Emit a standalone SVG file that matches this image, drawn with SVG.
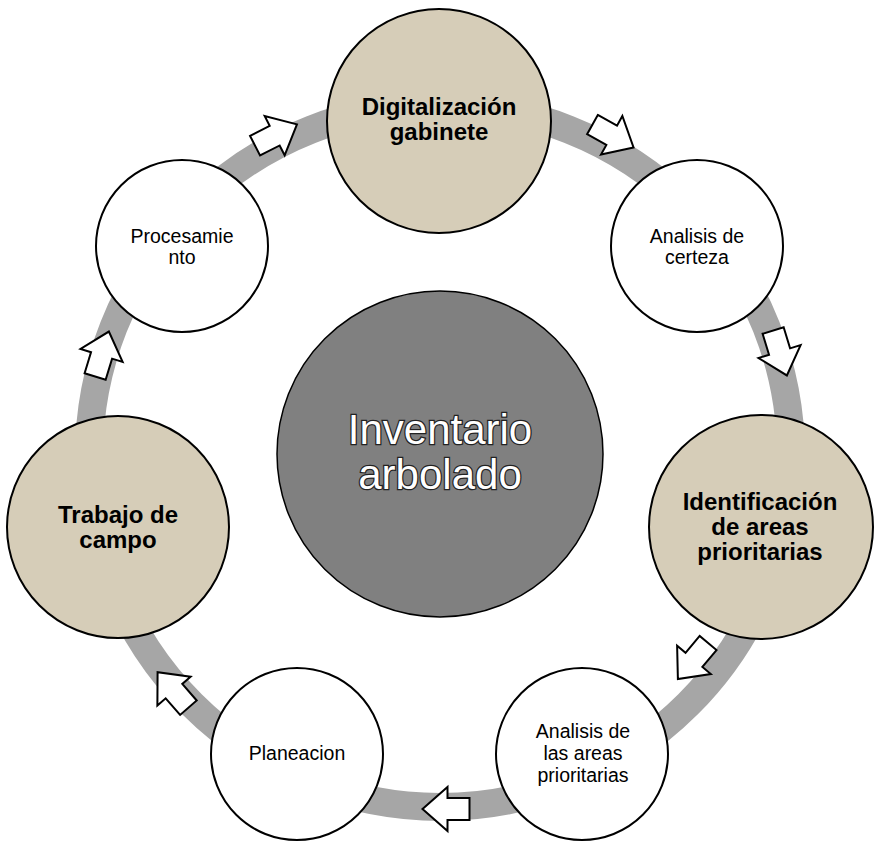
<svg xmlns="http://www.w3.org/2000/svg" width="879" height="842" viewBox="0 0 879 842">
<style>
.ring{fill:none;stroke:#a6a6a6;stroke-width:28}
.arr{fill:#fff;stroke:#000;stroke-width:2;stroke-linejoin:miter}
.big{fill:#d6cdb8;stroke:#000;stroke-width:2}
.small{fill:#fff;stroke:#000;stroke-width:2}
.center{fill:#808080;stroke:#000;stroke-width:1.5}
.tb{font-family:"Liberation Sans",Arial,sans-serif;font-weight:bold;font-size:24px;fill:#000;text-anchor:middle}
.tr{font-family:"Liberation Sans",Arial,sans-serif;font-size:19.5px;fill:#000;text-anchor:middle}
.tc{font-family:"Liberation Sans",Arial,sans-serif;font-size:42px;fill:#fff;stroke:#222;stroke-width:2.5;paint-order:stroke;text-anchor:middle}
</style>
<defs>
<polygon id="ba" points="-23.5,-11 -1.5,-11 -1.5,-22 23.5,0 -1.5,22 -1.5,11 -23.5,11"/>
</defs>
<rect x="0" y="0" width="879" height="842" fill="#fff"/>
<g id="connectors">
<circle class="ring" cx="440" cy="456" r="351"/>
<use href="#ba" class="arr" transform="translate(276,135) rotate(-27)"/>
<use href="#ba" class="arr" transform="translate(613,136) rotate(29)"/>
<use href="#ba" class="arr" transform="translate(780,353) rotate(73)"/>
<use href="#ba" class="arr" transform="translate(693,661) rotate(130)"/>
<use href="#ba" class="arr" transform="translate(446,809) rotate(180)"/>
<use href="#ba" class="arr" transform="translate(173,690) rotate(229)"/>
<use href="#ba" class="arr" transform="translate(102,354) rotate(-73)"/>
</g>
<g id="node-center">
<circle class="center" cx="440" cy="454" r="163"/>
<text class="tc" x="440" y="444">Inventario</text>
<text class="tc" x="440" y="489">arbolado</text>
</g>
<g id="node-digitalizacion">
<circle class="big" cx="439" cy="121" r="112"/>
<text class="tb" x="439" y="115">Digitalización</text>
<text class="tb" x="439" y="140">gabinete</text>
</g>
<g id="node-certeza">
<circle class="small" cx="697" cy="246" r="86"/>
<text class="tr" x="697" y="243">Analisis de</text>
<text class="tr" x="697" y="264">certeza</text>
</g>
<g id="node-identificacion">
<circle class="big" cx="761" cy="527" r="112"/>
<text class="tb" x="760" y="510">Identificación</text>
<text class="tb" x="760" y="535">de areas</text>
<text class="tb" x="760" y="560">prioritarias</text>
</g>
<g id="node-analisis-areas">
<circle class="small" cx="582" cy="754" r="86"/>
<text class="tr" x="583" y="738">Analisis de</text>
<text class="tr" x="583" y="760">las areas</text>
<text class="tr" x="583" y="782">prioritarias</text>
</g>
<g id="node-planeacion">
<circle class="small" cx="297" cy="754" r="86"/>
<text class="tr" x="297" y="760">Planeacion</text>
</g>
<g id="node-trabajo">
<circle class="big" cx="118" cy="527" r="111"/>
<text class="tb" x="118" y="523">Trabajo de</text>
<text class="tb" x="118" y="548">campo</text>
</g>
<g id="node-procesamiento">
<circle class="small" cx="182" cy="246" r="86"/>
<text class="tr" x="182" y="243">Procesamie</text>
<text class="tr" x="182" y="264">nto</text>
</g>
</svg>
